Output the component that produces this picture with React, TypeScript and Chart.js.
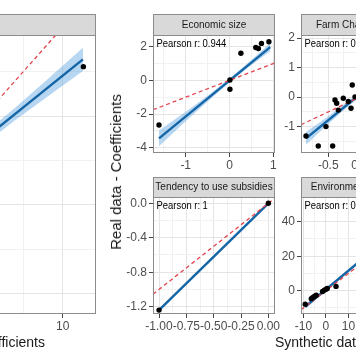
import React, { useEffect, useRef } from "react";
import { Chart, registerables } from "chart.js";

Chart.register(...registerables);

const FONT = "'Liberation Sans', Arial, Helvetica, sans-serif";

// ---------------- data ----------------
// Panel 0: overall (only its right part is visible)
const overallPointX = [11.31];
const overallPointY = [7.78];
const overallFitX = [-5.39, 11.28];
const overallFitY = [-3.71, 8.19];
const overallBandX = [-5.39, -2, 1, 4, 7, 9, 11.28];
const overallBandUpper = [-3.11, -0.89, 1.15, 3.27, 5.48, 7.04, 8.84];
const overallBandLower = [-4.31, -1.69, 0.55, 2.71, 4.78, 6.08, 7.54];

// Panel 1: Economic size
const econPointX = [-1.61, 0.01, 0.01, 0.26, 0.6, 0.66, 0.73, 0.9];
const econPointY = [-2.65, 0.02, -0.53, 1.61, 1.96, 1.9, 2.2, 2.3];
const econFitX = [-1.61, 0.93];
const econFitY = [-3.45, 1.98];
const econBandX = [-1.61, -1.0, -0.5, 0, 0.5, 0.93];
const econBandUpper = [-2.98, -1.87, -0.91, 0.11, 1.21, 2.23];
const econBandLower = [-3.92, -2.43, -1.25, -0.13, 0.91, 1.73];

// Panel 2: Farm Characteristics
const farmPointX = [-0.856, -0.66, -0.43, -0.537, -0.393, -0.366, -0.34, -0.26, -0.18, -0.117, -0.137, -0.073];
const farmPointY = [-1.32, -1.66, -1.66, -1.0, -0.1, -0.21, -0.44, -0.04, -0.15, 0.41, -0.38, 0.01];
const farmFitX = [-0.856, 0.925];
const farmFitY = [-1.4, 1.694];
const farmBandX = [-0.856, -0.6, -0.3, 0, 0.3, 0.6, 0.925];
const farmBandUpper = [-1.18, -0.805, -0.334, 0.177, 0.718, 1.289, 1.934];
const farmBandLower = [-1.62, -1.105, -0.534, -0.003, 0.498, 0.969, 1.454];

// Panel 3: Tendency to use subsidies
const tendPointX = [-1.0, 0.0];
const tendPointY = [-1.24, 0.0];
const tendFitX = [-1.0, 0.0];
const tendFitY = [-1.24, 0.0];

// Panel 4: Environmental
const envPointX = [-9.2, -6.5, -5.8, -5.0, -4.3, -1.5, -0.8, 0.0, 0.6, 4.5];
const envPointY = [-7.8, -4.6, -3.9, -3.2, -2.6, -0.5, 0.2, 0.8, 1.3, 2.5];
const envFitX = [-9.2, 40.7];
const envFitY = [-9.31, 44.93];
const envBandX = [-9.2, 0, 10, 20, 30, 40.7];
const envBandUpper = [-8.21, 1.49, 12.26, 23.23, 34.3, 46.23];
const envBandLower = [-10.41, -0.11, 10.86, 21.63, 32.3, 43.63];

// Texts
const stripLabels = [
  "All coefficients",
  "Economic size",
  "Farm Characteristics",
  "Tendency to use subsidies",
  "Environmental concern",
];
const pearsonLabels = ["", "Pearson r: 0.944", "Pearson r: 0.862", "Pearson r: 1", "Pearson r: 0.998"];
const xAxisTitle = "Synthetic data - Coefficients";
const yAxisTitle = "Real data - Coefficients";

// Axis limits
const xLimits = [
  [-6.22, 12.11],
  [-1.747, 1.039],
  [-0.936, 1.013],
  [-1.055, 0.061],
  [-11.07, 43.16],
];
const yLimits = [
  [-6.13, 9.56],
  [-4.32, 2.7],
  [-1.896, 2.108],
  [-1.285, 0.073],
  [-13.5, 54.3],
];
// tick specs: [minor step, major step, decimals]
const xTickSpec = [
  [2.5, 5, 0],
  [0.5, 1, 0],
  [0.25, 0.5, 1],
  [0.125, 0.25, 2],
  [5, 10, 0],
];
const yTickSpec = [
  [2.5, 5, 0],
  [1, 2, 0],
  [0.5, 1, 0],
  [0.2, 0.4, 1],
  [10, 20, 0],
];

// ---------------- layout ----------------
const rects = [
  { l: -193, r: 96, t: 35, b: 314, sh: 21 },
  { l: 153, r: 275, t: 35, b: 153, sh: 21 },
  { l: 301, r: 423, t: 35, b: 153, sh: 21 },
  { l: 153, r: 275, t: 197, b: 314, sh: 20 },
  { l: 301, r: 423, t: 197, b: 314, sh: 20 },
];
const YW = 34;
const XH = 24;
const PADR = 16;

const BLUE = "#1465A6";
const BAND = "rgba(95,165,225,0.45)";
const RED = "#E4444E";
const GRID_MAJ = "#E4E4E4";
const GRID_MIN = "#F1F1F1";
const TICK = "#444444";
const BORDER = "#8C8C8C";
const STRIP = "#D9D9D9";

const panelSources = [
  { px: overallPointX, py: overallPointY, fx: overallFitX, fy: overallFitY, bx: overallBandX, bu: overallBandUpper, bl: overallBandLower },
  { px: econPointX, py: econPointY, fx: econFitX, fy: econFitY, bx: econBandX, bu: econBandUpper, bl: econBandLower },
  { px: farmPointX, py: farmPointY, fx: farmFitX, fy: farmFitY, bx: farmBandX, bu: farmBandUpper, bl: farmBandLower },
  { px: tendPointX, py: tendPointY, fx: tendFitX, fy: tendFitY, bx: null, bu: null, bl: null },
  { px: envPointX, py: envPointY, fx: envFitX, fy: envFitY, bx: envBandX, bu: envBandUpper, bl: envBandLower },
];

const zip = (xs: number[], ys: number[]) => xs.map((x, i) => ({ x, y: ys[i] }));

const fmt = (v: number, dec: number) => (Math.abs(v) < 1e-9 ? (0).toFixed(dec) : v.toFixed(dec));

function axis(spec: number[], lim: number[], isX: boolean) {
  const [step, major, dec] = spec;
  const isMajor = (v: number) => Math.abs(v / major - Math.round(v / major)) < 1e-6;
  return {
    type: "linear",
    min: lim[0],
    max: lim[1],
    afterFit: (s: any) => {
      if (isX) s.height = XH;
      else s.width = YW;
      s.paddingLeft = 0;
      s.paddingRight = 0;
      s.paddingTop = 0;
      s.paddingBottom = 0;
    },
    ticks: {
      stepSize: step,
      autoSkip: false,
      maxRotation: 0,
      minRotation: 0,
      includeBounds: false,
      padding: isX ? 1 : 2,
      color: "#4D4D4D",
      font: { family: FONT, size: 12 },
      callback: (v: any) => (isMajor(Number(v)) ? fmt(Number(v), dec) : ""),
    },
    grid: {
      color: (c: any) => (c.tick && isMajor(c.tick.value) ? GRID_MAJ : GRID_MIN),
      lineWidth: 1,
      drawTicks: true,
      tickLength: 4,
      tickColor: (c: any) => (c.tick && isMajor(c.tick.value) ? TICK : "rgba(0,0,0,0)"),
    },
    border: { display: false },
  };
}

const panelDeco = {
  id: "panelDeco",
  afterDatasetsDraw(chart: any, _args: any, opts: any) {
    const { ctx, chartArea: a } = chart;
    ctx.save();
    if (opts.pearson) {
      ctx.save();
      ctx.translate(a.left + 3.5, a.top + 8.9);
      ctx.scale(0.82, 1);
      ctx.font = `11.5px ${FONT}`;
      ctx.fillStyle = "#000";
      ctx.textAlign = "left";
      ctx.textBaseline = "middle";
      ctx.fillText(opts.pearson, 0, 0);
      ctx.restore();
    }
    ctx.strokeStyle = BORDER;
    ctx.lineWidth = 1;
    ctx.strokeRect(a.left + 0.5, a.top + 0.5, a.right - a.left - 1, a.bottom - a.top - 1);
    const sh = opts.stripH;
    ctx.fillStyle = STRIP;
    ctx.fillRect(a.left, a.top - sh, a.right - a.left, sh);
    ctx.strokeRect(a.left + 0.5, a.top - sh + 0.5, a.right - a.left - 1, sh);
    ctx.fillStyle = "#1A1A1A";
    ctx.font = `10px ${FONT}`;
    ctx.textAlign = "center";
    ctx.textBaseline = "middle";
    ctx.fillText(opts.strip, (a.left + a.right) / 2, a.top - sh / 2 + 0.5);
    ctx.restore();
  },
};

function buildConfig(i: number): any {
  const src = panelSources[i];
  const [xmin, xmax] = xLimits[i];
  const datasets: any[] = [
    {
      type: "scatter",
      data: zip(src.px, src.py),
      pointRadius: 2.7,
      pointHoverRadius: 2.7,
      backgroundColor: "#000",
      borderWidth: 0,
    },
    {
      type: "line",
      data: [
        { x: xmin, y: xmin },
        { x: xmax, y: xmax },
      ],
      borderColor: RED,
      borderWidth: 1.3,
      borderDash: [4, 3],
      pointRadius: 0,
      fill: false,
    },
    {
      type: "line",
      data: zip(src.fx, src.fy),
      borderColor: BLUE,
      borderWidth: 2.4,
      pointRadius: 0,
      fill: false,
    },
  ];
  if (src.bx) {
    datasets.push({
      type: "line",
      data: zip(src.bx, src.bu as number[]),
      borderColor: "rgba(0,0,0,0)",
      borderWidth: 0,
      pointRadius: 0,
      fill: false,
    });
    datasets.push({
      type: "line",
      data: zip(src.bx, src.bl as number[]),
      borderColor: "rgba(0,0,0,0)",
      borderWidth: 0,
      pointRadius: 0,
      backgroundColor: BAND,
      fill: "-1",
    });
  }
  return {
    type: "scatter",
    data: { datasets },
    options: {
      responsive: false,
      animation: false,
      events: [],
      layout: { padding: { top: rects[i].sh, right: PADR, left: 0, bottom: 0 } },
      plugins: {
        legend: { display: false },
        tooltip: { enabled: false },
        panelDeco: { strip: stripLabels[i], pearson: pearsonLabels[i], stripH: rects[i].sh },
      },
      scales: {
        x: axis(xTickSpec[i], xLimits[i], true),
        y: axis(yTickSpec[i], yLimits[i], false),
      },
    },
    plugins: [panelDeco],
  };
}

function Panel({ idx }: { idx: number }) {
  const ref = useRef<HTMLCanvasElement>(null);
  const g = rects[idx];
  const W = g.r - g.l + YW + PADR;
  const H = g.sh + (g.b - g.t) + XH;
  useEffect(() => {
    if (!ref.current) return;
    const chart = new Chart(ref.current, buildConfig(idx));
    return () => chart.destroy();
  }, [idx]);
  return (
    <canvas
      ref={ref}
      width={W}
      height={H}
      style={{ position: "absolute", left: g.l - YW, top: g.t - g.sh, width: W, height: H }}
    />
  );
}

export default function App() {
  return (
    <div
      style={{
        position: "fixed",
        left: 0,
        top: 0,
        width: 356,
        height: 364,
        overflow: "hidden",
        background: "#fff",
        fontFamily: FONT,
        color: "#1A1A1A",
      }}
    >
      {rects.map((_, i) => (
        <Panel key={i} idx={i} />
      ))}
      <div
        style={{ position: "absolute", right: 311, top: 333, fontSize: 14, lineHeight: "18px", whiteSpace: "nowrap" }}
      >
        {xAxisTitle}
      </div>
      <div
        style={{ position: "absolute", left: 275, top: 333, fontSize: 14, lineHeight: "18px", whiteSpace: "nowrap" }}
      >
        {xAxisTitle}
      </div>
      <div
        style={{
          position: "absolute",
          left: 116,
          top: 172,
          transform: "translate(-50%, -50%) rotate(-90deg)",
          fontSize: 15,
          lineHeight: "18px",
          whiteSpace: "nowrap",
        }}
      >
        {yAxisTitle}
      </div>
    </div>
  );
}
